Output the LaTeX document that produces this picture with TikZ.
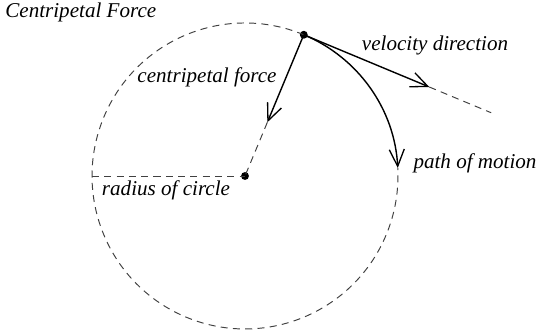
\documentclass[tikz,border=0pt]{standalone}
\usepackage{fontspec}
\setmainfont{Liberation Serif}
\usepackage{tikz}
\usetikzlibrary{arrows.meta,calc}

\begin{document}
\begin{tikzpicture}[
  x=0.02cm, y=0.02cm,
  font=\fontsize{12}{14}\selectfont\itshape,
  lbl/.style={inner sep=0pt},
  dot/.style={circle, fill=black, inner sep=0pt, minimum size=4.5pt},
  dashline/.style={dashed, dash pattern=on 4pt off 3pt, line width=0.55pt, black!75},
  arr/.style={-{Straight Barb[length=3.4mm, width=3mm, line width=0.75pt]}, line width=0.8pt}
]
\useasboundingbox (0,0) rectangle (539,332);

% circle and its centre
\node[dot] (center) at (245,156) {};
\path (center) ++(67.4:153) node[dot] (top) {};
\coordinate (left) at ($(center)+(-153,0)$);
\draw[dashline] (top.center) arc[start angle=67.4, end angle=363, radius=3.06cm];

% radius
\draw[dashline] (left) -- (center.center);

% centripetal force
\coordinate (forcetip) at ($(top.center)!0.62!(center.center)$);
\draw[arr] (top.center) -- (forcetip);
\draw[dashline] (forcetip) -- (center.center);

% velocity direction
\path (top.center) ++(-22.6:136) coordinate (veltip);
\path (top.center) ++(-22.6:203) coordinate (velend);
\draw[arr] (top.center) -- (veltip);
\draw[dashline] (veltip) -- (velend);

% path of motion
\draw[arr] (top.center) arc[start angle=67.4, end angle=3, radius=3.06cm];

\node[lbl, anchor=west] (title) at (5,320) {Centripetal Force};
\node[lbl] (forcelbl) at (207,255) {centripetal force};
\node[lbl] (vellbl) at (435,287) {velocity direction};
\node[lbl] (pathlbl) at (475,169) {path of motion};
\node[lbl] (radiuslbl) at (166,142) {radius of circle};

\end{tikzpicture}
\end{document}
